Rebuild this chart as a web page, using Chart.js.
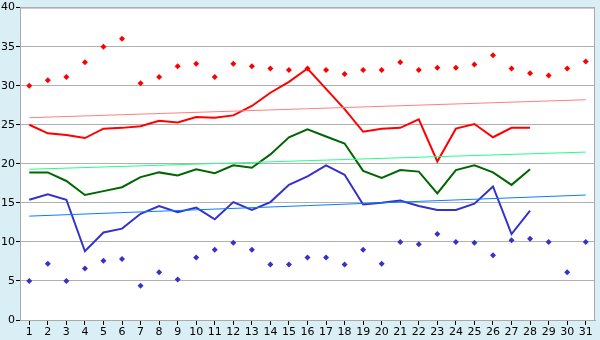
<!DOCTYPE html>
<html>
<head>
<meta charset="utf-8">
<script src="https://cdn.jsdelivr.net/npm/chart.js@4"></script>
<style>
  html, body { margin: 0; padding: 0; background: #daeef5; }
  #wrap { width: 600px; height: 340px; }
</style>
</head>
<body>
<div id="wrap"><canvas id="myChart"></canvas></div>
<script>
const days = ['1','2','3','4','5','6','7','8','9','10','11','12','13','14','15','16','17','18','19','20','21','22','23','24','25','26','27','28','29','30','31'];

const maxPoints = [30.0, 30.7, 31.1, 33.0, 35.0, 36.0, 30.3, 31.1, 32.5, 32.8, 31.1, 32.8, 32.5, 32.2, 32.0, 32.2, 32.0, 31.5, 32.0, 32.0, 33.0, 32.0, 32.3, 32.3, 32.7, 33.9, 32.2, 31.6, 31.3, 32.2, 33.1];
const minPoints = [5.0, 7.2, 5.0, 6.6, 7.6, 7.8, 4.4, 6.1, 5.2, 8.0, 9.0, 9.9, 9.0, 7.1, 7.1, 8.0, 8.0, 7.1, 9.0, 7.2, 10.0, 9.7, 11.0, 10.0, 9.9, 8.3, 10.2, 10.4, 10.0, 6.1, 10.0];

const redLine = [25.0, 23.9, 23.7, 23.3, 24.5, 24.6, 24.8, 25.5, 25.3, 26.0, 25.9, 26.2, 27.4, 29.1, 30.5, 32.2, 29.6, 27.0, 24.1, 24.5, 24.6, 25.7, 20.3, 24.5, 25.1, 23.4, 24.6, 24.6];
const greenLine = [18.9, 18.9, 17.8, 16.0, 16.5, 17.0, 18.3, 18.9, 18.5, 19.3, 18.8, 19.8, 19.5, 21.2, 23.4, 24.4, 23.5, 22.6, 19.1, 18.2, 19.2, 19.0, 16.2, 19.2, 19.8, 18.9, 17.3, 19.3];
const blueLine = [15.4, 16.1, 15.4, 8.8, 11.2, 11.7, 13.6, 14.6, 13.8, 14.4, 12.9, 15.1, 14.1, 15.1, 17.3, 18.4, 19.8, 18.6, 14.8, 15.0, 15.3, 14.6, 14.1, 14.1, 14.9, 17.1, 11.0, 14.0];

// trend lines: value at day 1 and day 31
const redTrend = [25.9, 28.2];
const greenTrend = [19.3, 21.5];
const blueTrend = [13.3, 16.0];

const yTicks = [0, 5, 10, 15, 20, 25, 30, 35, 40];

function trend(t) {
  return [{x: days[0], y: t[0]}, {x: days[days.length - 1], y: t[1]}];
}

const plotBg = {
  id: 'plotBg',
  beforeDraw(chart) {
    const a = chart.chartArea;
    const c = chart.ctx;
    c.save();
    c.fillStyle = '#ffffff';
    c.fillRect(a.left, a.top, a.right - a.left, a.bottom - a.top);
    c.restore();
  },
  afterDatasetsDraw(chart) {
    const a = chart.chartArea;
    const c = chart.ctx;
    c.save();
    c.strokeStyle = '#aaaaaa';
    c.lineWidth = 1;
    c.strokeRect(a.left + 0.5, a.top + 0.5, a.right - a.left - 1, a.bottom - a.top);
    c.restore();
  }
};

const ctx = document.getElementById('myChart');

new Chart(ctx, {
  type: 'line',
  data: {
    labels: days,
    datasets: [
      { data: trend(redTrend), borderColor: '#ff7f7f', borderWidth: 1, pointRadius: 0 },
      { data: trend(greenTrend), borderColor: '#22ff88', borderWidth: 1, pointRadius: 0 },
      { data: trend(blueTrend), borderColor: '#0a7cff', borderWidth: 1, pointRadius: 0 },
      { data: redLine, borderColor: '#ff0000', borderWidth: 2, pointRadius: 0 },
      { data: greenLine, borderColor: '#006600', borderWidth: 2, pointRadius: 0 },
      { data: blueLine, borderColor: '#3333cc', borderWidth: 2, pointRadius: 0 },
      { data: maxPoints, showLine: false, pointStyle: 'rectRot', pointRadius: 3, pointBorderWidth: 0, backgroundColor: '#ff0000', borderColor: '#ff0000' },
      { data: minPoints, showLine: false, pointStyle: 'rectRot', pointRadius: 3, pointBorderWidth: 0, backgroundColor: '#3333cc', borderColor: '#3333cc' }
    ]
  },
  options: {
    responsive: true,
    maintainAspectRatio: false,
    animation: false,
    layout: { padding: { top: 5, right: 5, left: 0, bottom: 0 } },
    plugins: {
      legend: { display: false },
      tooltip: { enabled: false }
    },
    elements: { line: { tension: 0 } },
    scales: {
      x: {
        offset: true,
        grid: { offset: false, drawOnChartArea: false, tickLength: 5, tickColor: '#000000' },
        border: { color: '#aaaaaa' },
        ticks: { color: '#000000', font: { family: 'DejaVu Sans', size: 11 }, padding: 1, maxRotation: 0, autoSkip: false },
        afterFit(scale) { scale.height = 20; }
      },
      y: {
        min: 0,
        max: 40,
        afterBuildTicks(scale) { scale.ticks = yTicks.map(v => ({ value: v })); },
        grid: { color: '#b0b0b0', tickLength: 4, tickColor: '#000000' },
        border: { color: '#aaaaaa' },
        ticks: { color: '#000000', font: { family: 'DejaVu Sans', size: 11 }, padding: 1 },
        afterFit(scale) { scale.width = 20; }
      }
    }
  },
  plugins: [plotBg]
});
</script>
</body>
</html>
